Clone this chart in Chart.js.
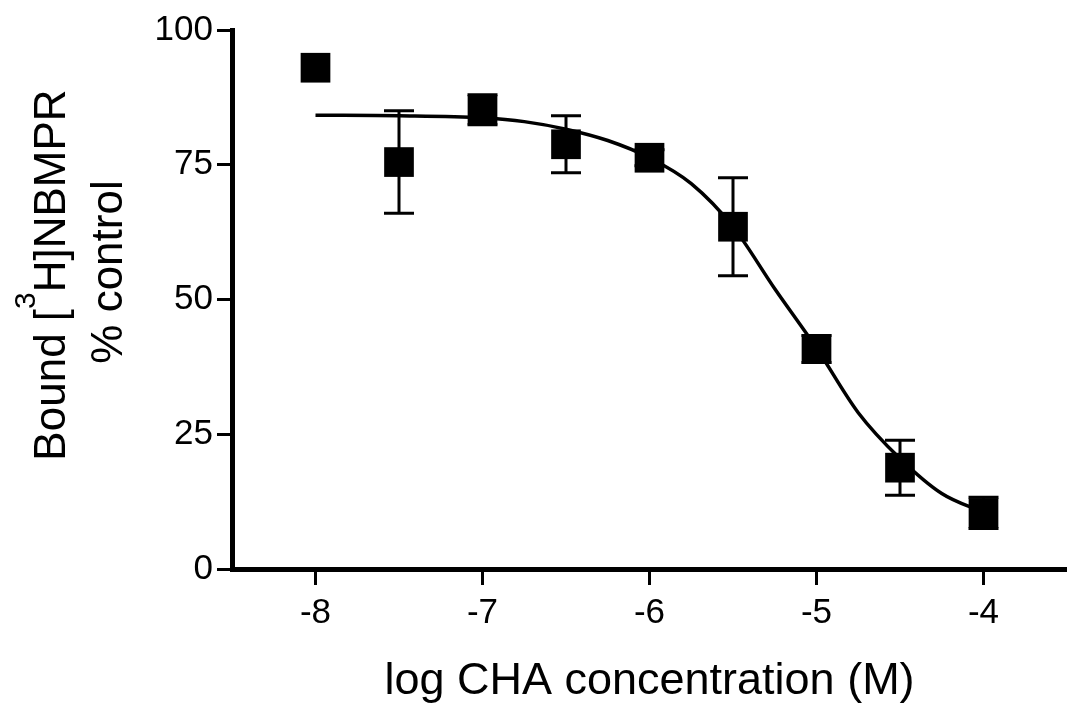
<!DOCTYPE html>
<html>
<head>
<meta charset="utf-8">
<script src="https://cdn.jsdelivr.net/npm/chart.js@4.4.0/dist/chart.umd.min.js"></script>
<style>
    html, body { margin: 0; padding: 0; background: #fff; }
    #wrap { width: 1067px; height: 706px; }
</style>
</head>
<body>
<div id="wrap"><canvas id="binding-plot" width="1067" height="706"></canvas></div>
<script>
// Mean specific binding (% of control) at each CHA concentration, with SEM
const logConc = [-8, -7.5, -7, -6.5, -6, -5.5, -5, -4.5, -4];
const meanBound = [93.0, 75.5, 85.2, 78.8, 76.3, 63.5, 40.8, 18.8, 10.4];
const semBound = [0, 9.5, 2.8, 5.3, 1.5, 9.1, 2.5, 5.1, 2.9];

// Fitted inhibition curve
const fitLogConc = [-8, -7.5, -7, -6.75, -6.5, -6.25, -6, -5.75, -5.5, -5.25, -5, -4.75, -4.5, -4.25, -4];
const fitBound = [84.2, 84.1, 83.7, 83.0, 81.6, 79.5, 76.3, 71.5, 63.5, 52.0, 41.0, 29.0, 20.5, 14.0, 10.5];

const xTicks = [-8, -7, -6, -5, -4];
const yTicks = [0, 25, 50, 75, 100];

const familia = '"Liberation Sans", Arial, Helvetica, sans-serif';

// vertical SEM bars with caps, drawn under the squares
const barrasError = {
    id: 'barrasError',
    beforeDatasetsDraw(chart) {
        const ctx = chart.ctx;
        const sx = chart.scales.x, sy = chart.scales.y;
        ctx.save();
        ctx.strokeStyle = '#000';
        ctx.lineWidth = 3;
        logConc.forEach((c, i) => {
            if (!semBound[i]) return;
            const px = sx.getPixelForValue(c);
            const arriba = sy.getPixelForValue(meanBound[i] + semBound[i]);
            const abajo = sy.getPixelForValue(meanBound[i] - semBound[i]);
            ctx.beginPath();
            ctx.moveTo(px, arriba); ctx.lineTo(px, abajo);
            ctx.moveTo(px - 15, arriba); ctx.lineTo(px + 15, arriba);
            ctx.moveTo(px - 15, abajo); ctx.lineTo(px + 15, abajo);
            ctx.stroke();
        });
        ctx.restore();
    }
};

// two-line y title with a raised superscript 3
const tituloY = {
    id: 'tituloY',
    afterDraw(chart) {
        const ctx = chart.ctx;
        const grande = '44px ' + familia;
        const chico = '30px ' + familia;
        const a = 'Bound [', b = 'H]NBMPR';
        ctx.save();
        ctx.fillStyle = '#000';
        ctx.textBaseline = 'alphabetic';
        ctx.textAlign = 'left';
        ctx.font = grande;
        const wa = ctx.measureText(a).width;
        const wb = ctx.measureText(b).width;
        ctx.font = chico;
        const w3 = ctx.measureText('3').width;
        const x0 = -(wa + w3 + wb) / 2;

        ctx.translate(65, 275);
        ctx.rotate(-Math.PI / 2);
        ctx.font = grande;
        ctx.fillText(a, x0, 0);
        ctx.font = chico;
        ctx.fillText('3', x0 + wa, -30);
        ctx.font = grande;
        ctx.fillText(b, x0 + wa + w3, 0);
        ctx.restore();

        ctx.save();
        ctx.fillStyle = '#000';
        ctx.font = grande;
        ctx.textAlign = 'center';
        ctx.textBaseline = 'alphabetic';
        ctx.translate(122, 272);
        ctx.rotate(-Math.PI / 2);
        ctx.fillText('% control', 0, 0);
        ctx.restore();
    }
};

function graficarUnion() {
    const ctx = document.getElementById('binding-plot').getContext('2d');
    Chart.defaults.color = '#000';

    const puntos = logConc.map((c, i) => ({ x: c, y: meanBound[i] }));
    const curva = fitLogConc.map((c, i) => ({ x: c, y: fitBound[i] }));

    new Chart(ctx, {
        type: 'scatter',
        data: {
            datasets: [
                {
                    label: 'media',
                    data: puntos,
                    showLine: false,
                    pointStyle: 'rect',
                    pointRadius: 21,
                    pointBackgroundColor: '#000',
                    pointBorderWidth: 0
                },
                {
                    label: 'ajuste',
                    data: curva,
                    showLine: true,
                    borderColor: '#000',
                    borderWidth: 3.5,
                    pointRadius: 0,
                    cubicInterpolationMode: 'monotone',
                    fill: false
                }
            ]
        },
        options: {
            responsive: false,
            animation: false,
            events: [],
            layout: { autoPadding: false, padding: { top: 30, left: 0, right: 0, bottom: 0 } },
            scales: {
                x: {
                    type: 'linear',
                    min: -8.5,
                    max: -3.5,
                    afterBuildTicks: s => { s.ticks = xTicks.map(v => ({ value: v })); },
                    afterFit: s => { s.height = 137; s.paddingLeft = 0; s.paddingRight = 0; },
                    border: { display: true, color: '#000', width: 5 },
                    grid: { display: true, drawOnChartArea: false, drawTicks: true, tickLength: 16, tickWidth: 3, tickColor: '#000' },
                    ticks: { padding: 7, font: { size: 35, family: familia }, color: '#000' },
                    title: {
                        display: true,
                        text: 'log CHA concentration (M)',
                        font: { size: 45, family: familia, lineHeight: 1 },
                        padding: { top: 0, bottom: 2 },
                        color: '#000'
                    }
                },
                y: {
                    min: 0,
                    max: 100,
                    afterBuildTicks: s => { s.ticks = yTicks.map(v => ({ value: v })); },
                    afterFit: s => { s.width = 232; },
                    border: { display: true, color: '#000', width: 5 },
                    grid: { display: true, drawOnChartArea: false, drawTicks: true, tickLength: 15, tickWidth: 3, tickColor: '#000' },
                    ticks: { padding: 4, font: { size: 35, family: familia }, color: '#000' }
                }
            },
            plugins: {
                legend: { display: false },
                tooltip: { enabled: false }
            }
        },
        plugins: [barrasError, tituloY]
    });
}

window.addEventListener('DOMContentLoaded', graficarUnion);
</script>
</body>
</html>
